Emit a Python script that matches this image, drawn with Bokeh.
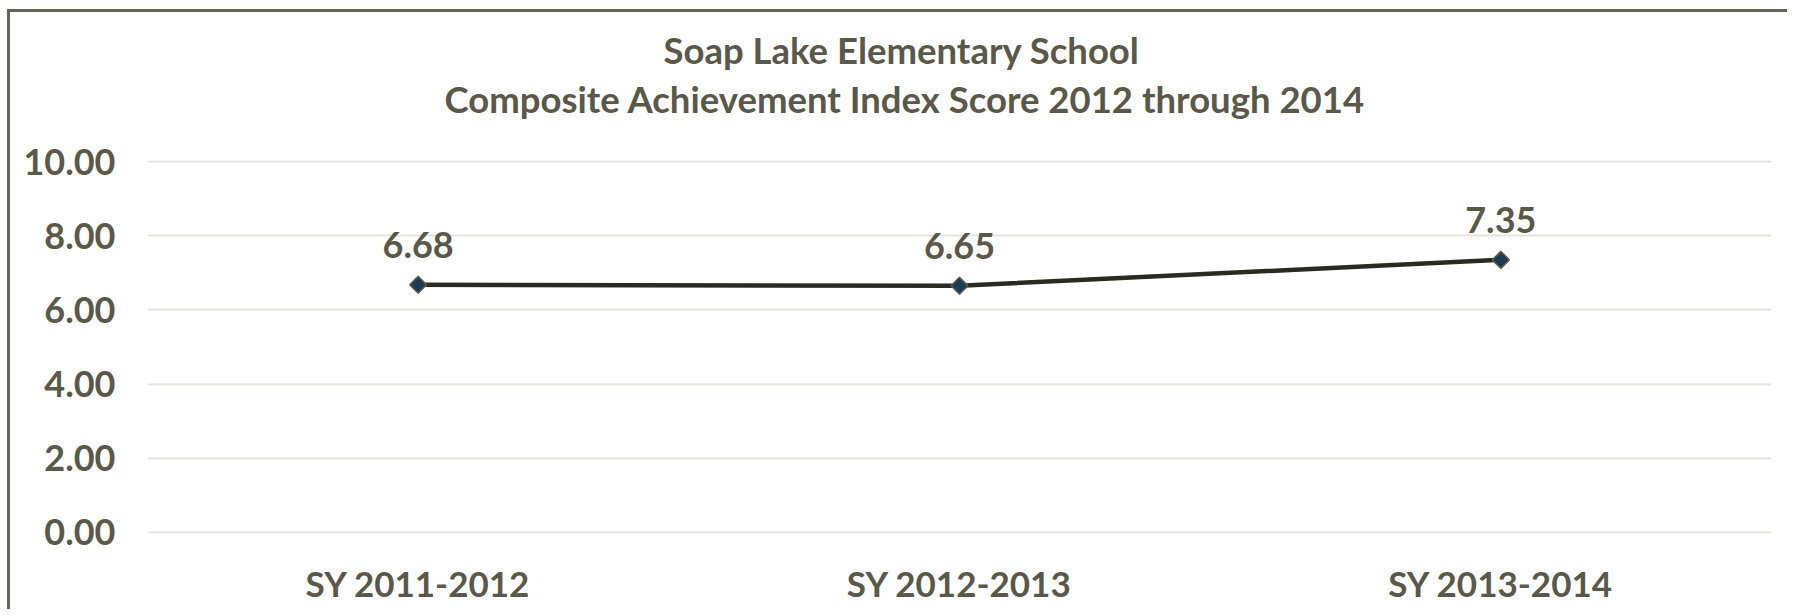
from bokeh.plotting import figure
from bokeh.models import Range1d, Title, ColumnDataSource, LabelSet, FixedTicker, NumeralTickFormatter
from bokeh.core.properties import value
from bokeh.embed import file_html
from bokeh.resources import INLINE
import math

categories = ["SY 2011-2012", "SY 2012-2013", "SY 2013-2014"]
scores = [6.68, 6.65, 7.35]
score_labels = ["6.68", "6.65", "7.35"]
y_ticks = [0, 2, 4, 6, 8, 10]
title_line1 = "Soap Lake Elementary School"
title_line2 = "Composite Achievement Index Score 2012 through 2014"

TEXT = "#5a5849"
FONT = "Lato"

p = figure(width=1780, height=600, x_range=categories, y_range=Range1d(-0.03, 10.03),
           output_backend="svg", toolbar_location=None, title=None,
           min_border_left=137, min_border_right=19, min_border_top=148, min_border_bottom=79)
p.styles = {"margin-left": "7px", "margin-top": "9px",
            "border-left": "3px solid #66655a", "border-top": "3px solid #66655a"}
p.outline_line_color = None
p.background_fill_color = "white"
p.border_fill_color = "white"

p.xgrid.grid_line_color = None
p.ygrid.grid_line_color = "#e4e4dd"
p.ygrid.grid_line_width = 2

for ax in (p.xaxis[0], p.yaxis[0]):
    ax.axis_line_color = None
    ax.major_tick_line_color = None
    ax.minor_tick_line_color = None
    ax.major_label_text_color = TEXT
    ax.major_label_text_font = FONT
    ax.major_label_text_font_style = "bold"

p.yaxis.ticker = FixedTicker(ticks=y_ticks)
p.yaxis.formatter = NumeralTickFormatter(format="0.00")
p.yaxis.major_label_text_font_size = "36px"
p.yaxis.major_label_standoff = 26
p.xaxis.major_label_text_font_size = "35px"
p.xaxis.major_label_standoff = 22

src = ColumnDataSource(dict(x=categories, y=scores, lab=score_labels))
p.line(x="x", y="y", source=src, line_color="#2b2a22", line_width=4.5)
p.scatter(x="x", y="y", source=src, marker="square", angle=math.pi / 4, size=12,
          fill_color="#1d3a55", line_color="#5e5c4f", line_width=1.5)

p.add_layout(LabelSet(x="x", y="y", text="lab", source=src, y_offset=40,
                      text_align="center", text_baseline="middle",
                      text_color=TEXT, text_font=value(FONT), text_font_style="bold",
                      text_font_size="36px"))

# spacer between the plot area and the two title lines
p.add_layout(Title(text=" ", align="left", standoff=32, text_font_size="2px",
                   text_color="white"), "above")
p.add_layout(Title(text=title_line2, align="left", offset=297, standoff=7,
                   text_color=TEXT, text_font=FONT, text_font_style="bold",
                   text_font_size="36.5px"), "above")
p.add_layout(Title(text=title_line1, align="left", offset=516, standoff=0,
                   text_color=TEXT, text_font=FONT, text_font_style="bold",
                   text_font_size="36.5px"), "above")

open("out.html", "w").write(file_html(p, INLINE))
